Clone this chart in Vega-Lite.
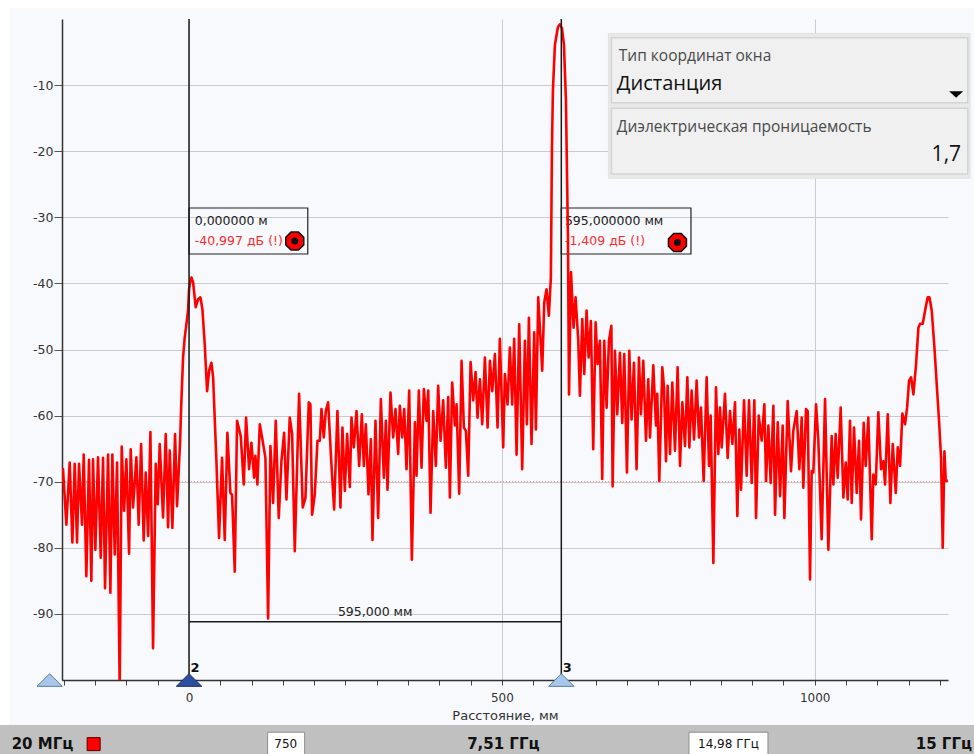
{
  "$schema": "https://vega.github.io/schema/vega-lite/v6.json",
  "width": 886,
  "height": 661,
  "autosize": {"type": "none"},
  "padding": {"left": 62, "top": 19, "right": 26, "bottom": 74},
  "background": "#f8f9fc",
  "config": {"view": {"stroke": null}, "font": "DejaVu Sans"},
  "datasets": {
    "trace": [
      {"d":-203,"db":-70.0},{"d":-201.4,"db":-68.1},{"d":-196.0,"db":-76.5},{"d":-190.7,"db":-67.1},{"d":-186.4,"db":-79.2},{"d":-182.7,"db":-67.3},{"d":-179.0,"db":-79.2},{"d":-175.8,"db":-67.3},{"d":-171.0,"db":-76.5},{"d":-168.3,"db":-65.9},{"d":-164.1,"db":-84.3},{"d":-159.8,"db":-66.7},{"d":-156.1,"db":-85.0},{"d":-153.4,"db":-66.6},{"d":-149.7,"db":-80.3},{"d":-145.4,"db":-66.3},{"d":-141.1,"db":-81.5},{"d":-137.4,"db":-66.4},{"d":-134.2,"db":-86.1},{"d":-129.4,"db":-65.9},{"d":-125.7,"db":-86.8},{"d":-122.5,"db":-65.9},{"d":-118.7,"db":-81.0},{"d":-115.0,"db":-67.1},{"d":-110.8,"db":-101},{"d":-107.6,"db":-64.7},{"d":-103.8,"db":-74.4},{"d":-100.1,"db":-66.6},{"d":-95.8,"db":-80.9},{"d":-93.2,"db":-65.1},{"d":-89.4,"db":-73.9},{"d":-84.1,"db":-66.3},{"d":-80.4,"db":-76.5},{"d":-76.6,"db":-64.3},{"d":-72.4,"db":-78.9},{"d":-69.2,"db":-68.6},{"d":-65.4,"db":-78.2},{"d":-61.7,"db":-62.5},{"d":-57.5,"db":-95.2},{"d":-53.2,"db":-67.3},{"d":-50.0,"db":-73.4},{"d":-46.8,"db":-64.3},{"d":-41.5,"db":-75.4},{"d":-37.2,"db":-62.8},{"d":-33.5,"db":-76.9},{"d":-30.8,"db":-65.3},{"d":-26.6,"db":-77.0},{"d":-22.3,"db":-62.8},{"d":-19.1,"db":-73.7},{"d":-16.3,"db":-68.0},{"d":-14.3,"db":-64.0},{"d":-12.2,"db":-57.8},{"d":-9.5,"db":-51.2},{"d":-6.9,"db":-48.2},{"d":-4.2,"db":-46.2},{"d":-1.5,"db":-44.1},{"d":0,"db":-41.0},{"d":1.2,"db":-40.1},{"d":3.8,"db":-39.1},{"d":6.5,"db":-39.8},{"d":10.7,"db":-43.6},{"d":14.5,"db":-42.4},{"d":18.2,"db":-42.1},{"d":21.4,"db":-43.9},{"d":25.1,"db":-49.2},{"d":28.9,"db":-56.3},{"d":32.1,"db":-53.2},{"d":35.8,"db":-52.0},{"d":38.5,"db":-54.2},{"d":43.8,"db":-66.9},{"d":48.0,"db":-78.5},{"d":52.8,"db":-66.4},{"d":57.1,"db":-78.8},{"d":61.3,"db":-62.6},{"d":66.1,"db":-71.7},{"d":68.8,"db":-72.0},{"d":73.1,"db":-83.6},{"d":76.8,"db":-60.8},{"d":82.7,"db":-63.1},{"d":87.5,"db":-70.4},{"d":91.2,"db":-60.3},{"d":96.0,"db":-68.1},{"d":99.7,"db":-64.1},{"d":104.0,"db":-69.4},{"d":106.1,"db":-66.1},{"d":109.3,"db":-70.4},{"d":113.1,"db":-61.3},{"d":116.8,"db":-63.3},{"d":122.1,"db":-66.4},{"d":126.4,"db":-90.7},{"d":130.1,"db":-64.6},{"d":134.4,"db":-73.2},{"d":138.6,"db":-60.8},{"d":143.4,"db":-75.5},{"d":147.7,"db":-66.9},{"d":152.0,"db":-62.6},{"d":155.7,"db":-72.7},{"d":161.0,"db":-60.3},{"d":164.8,"db":-62.8},{"d":169.0,"db":-80.5},{"d":175.9,"db":-56.7},{"d":181.8,"db":-73.9},{"d":186.1,"db":-72.4},{"d":191.4,"db":-58.0},{"d":194.0,"db":-58.3},{"d":196.7,"db":-75.0},{"d":201.0,"db":-71.9},{"d":205.3,"db":-63.8},{"d":209.0,"db":-63.8},{"d":211.7,"db":-59.0},{"d":215.4,"db":-63.3},{"d":218.6,"db":-59.3},{"d":222.3,"db":-58.0},{"d":227.6,"db":-67.4},{"d":231.9,"db":-74.2},{"d":237.2,"db":-59.3},{"d":242.0,"db":-73.9},{"d":245.2,"db":-61.8},{"d":249.0,"db":-71.4},{"d":252.7,"db":-62.8},{"d":257.0,"db":-70.8},{"d":259.7,"db":-60.3},{"d":263.4,"db":-64.8},{"d":267.7,"db":-59.3},{"d":271.9,"db":-67.6},{"d":276.2,"db":-59.8},{"d":279.4,"db":-67.6},{"d":282.6,"db":-61.3},{"d":286.8,"db":-71.9},{"d":290.6,"db":-63.6},{"d":293.2,"db":-78.8},{"d":298.0,"db":-60.8},{"d":302.3,"db":-75.5},{"d":306.6,"db":-57.5},{"d":311.4,"db":-69.4},{"d":314.6,"db":-60.8},{"d":317.2,"db":-71.2},{"d":322.0,"db":-56.5},{"d":326.3,"db":-63.3},{"d":330.0,"db":-59.0},{"d":334.3,"db":-65.8},{"d":336.9,"db":-58.5},{"d":340.7,"db":-63.3},{"d":343.9,"db":-59.0},{"d":347.6,"db":-68.1},{"d":351.9,"db":-56.2},{"d":356.1,"db":-81.8},{"d":361.0,"db":-61.0},{"d":363.6,"db":-69.1},{"d":367.3,"db":-56.2},{"d":371.6,"db":-67.9},{"d":375.3,"db":-56.0},{"d":379.6,"db":-60.8},{"d":382.3,"db":-56.2},{"d":386.0,"db":-74.7},{"d":390.3,"db":-59.3},{"d":394.5,"db":-67.6},{"d":398.2,"db":-55.5},{"d":402.0,"db":-63.8},{"d":406.2,"db":-57.7},{"d":410.5,"db":-67.9},{"d":414.2,"db":-57.2},{"d":416.9,"db":-72.4},{"d":420.6,"db":-55.0},{"d":424.9,"db":-61.5},{"d":427.6,"db":-58.3},{"d":431.8,"db":-71.8},{"d":435.6,"db":-51.7},{"d":439.3,"db":-61.8},{"d":442.5,"db":-62.3},{"d":446.2,"db":-69.1},{"d":450.0,"db":-51.9},{"d":454.2,"db":-57.7},{"d":458.0,"db":-53.4},{"d":461.1,"db":-60.3},{"d":464.9,"db":-54.5},{"d":468.6,"db":-61.3},{"d":472.9,"db":-51.2},{"d":477.2,"db":-61.8},{"d":480.9,"db":-51.7},{"d":484.6,"db":-56.3},{"d":488.9,"db":-50.7},{"d":493.1,"db":-61.8},{"d":496.8,"db":-48.4},{"d":502.1,"db":-64.8},{"d":504.8,"db":-53.7},{"d":509.1,"db":-58.3},{"d":512.8,"db":-49.7},{"d":516.5,"db":-58.3},{"d":519.7,"db":-48.4},{"d":523.5,"db":-65.9},{"d":527.7,"db":-46.2},{"d":532.5,"db":-68.1},{"d":536.8,"db":-48.7},{"d":540.0,"db":-61.3},{"d":543.2,"db":-45.2},{"d":547.4,"db":-64.3},{"d":551.7,"db":-47.4},{"d":554.4,"db":-62.1},{"d":558.1,"db":-42.1},{"d":564.5,"db":-53.2},{"d":567.7,"db":-42.9},{"d":571.4,"db":-40.9},{"d":575.1,"db":-44.9},{"d":578.3,"db":-39.1},{"d":580.0,"db":-19.8},{"d":581.6,"db":-10.7},{"d":584.8,"db":-3.9},{"d":589.6,"db":-1.2},{"d":592.8,"db":-0.8},{"d":596.0,"db":-1.4},{"d":599.2,"db":-3.9},{"d":602.4,"db":-12.3},{"d":604.0,"db":-22.8},{"d":605.6,"db":-33.0},{"d":607.3,"db":-56.8},{"d":610.5,"db":-38.3},{"d":614.6,"db":-46.7},{"d":617.8,"db":-42.1},{"d":622.1,"db":-48.7},{"d":624.7,"db":-57.0},{"d":628.5,"db":-45.4},{"d":631.7,"db":-53.7},{"d":635.4,"db":-44.1},{"d":638.6,"db":-51.2},{"d":642.3,"db":-45.7},{"d":646.0,"db":-65.1},{"d":649.8,"db":-45.9},{"d":653.0,"db":-52.2},{"d":656.7,"db":-48.7},{"d":660.4,"db":-69.6},{"d":663.6,"db":-48.7},{"d":667.4,"db":-58.8},{"d":671.1,"db":-48.7},{"d":675.0,"db":-46.4},{"d":677.0,"db":-70.7},{"d":680.7,"db":-50.2},{"d":684.4,"db":-59.8},{"d":688.7,"db":-50.5},{"d":692.4,"db":-61.1},{"d":695.6,"db":-50.7},{"d":699.9,"db":-68.6},{"d":703.6,"db":-50.2},{"d":707.3,"db":-60.6},{"d":711.1,"db":-52.0},{"d":715.3,"db":-68.1},{"d":719.1,"db":-51.2},{"d":722.3,"db":-59.8},{"d":726.0,"db":-51.7},{"d":730.3,"db":-63.8},{"d":734.0,"db":-54.5},{"d":736.7,"db":-63.3},{"d":742.0,"db":-52.4},{"d":746.3,"db":-61.5},{"d":748.4,"db":-56.7},{"d":751.6,"db":-69.9},{"d":756.4,"db":-52.7},{"d":759.1,"db":-55.7},{"d":762.3,"db":-66.9},{"d":764.9,"db":-55.5},{"d":768.7,"db":-65.8},{"d":772.4,"db":-55.0},{"d":776.7,"db":-65.3},{"d":780.9,"db":-52.7},{"d":784.7,"db":-67.6},{"d":788.4,"db":-58.0},{"d":792.7,"db":-64.6},{"d":796.4,"db":-54.2},{"d":799.6,"db":-64.8},{"d":803.3,"db":-56.2},{"d":807.1,"db":-63.6},{"d":811.3,"db":-54.7},{"d":815.0,"db":-63.3},{"d":818.2,"db":-58.8},{"d":822.5,"db":-69.9},{"d":827.3,"db":-54.2},{"d":831.0,"db":-67.6},{"d":833.7,"db":-60.0},{"d":838.0,"db":-82.3},{"d":842.2,"db":-55.7},{"d":845.9,"db":-65.8},{"d":848.6,"db":-58.8},{"d":851.3,"db":-64.8},{"d":856.6,"db":-56.7},{"d":860.9,"db":-66.4},{"d":864.6,"db":-59.3},{"d":868.4,"db":-64.3},{"d":872.6,"db":-58.0},{"d":876.3,"db":-75.2},{"d":879.5,"db":-62.1},{"d":882.2,"db":-71.2},{"d":887.0,"db":-57.7},{"d":891.3,"db":-69.1},{"d":895.0,"db":-57.7},{"d":899.3,"db":-70.2},{"d":903.5,"db":-57.7},{"d":906.2,"db":-75.5},{"d":910.5,"db":-60.0},{"d":915.2,"db":-63.8},{"d":919.5,"db":-58.3},{"d":922.2,"db":-69.9},{"d":925.9,"db":-61.5},{"d":929.6,"db":-70.2},{"d":933.9,"db":-58.5},{"d":936.6,"db":-75.0},{"d":940.9,"db":-61.0},{"d":944.6,"db":-72.2},{"d":948.8,"db":-61.5},{"d":951.5,"db":-75.5},{"d":956.8,"db":-57.8},{"d":962.1,"db":-68.4},{"d":965.8,"db":-62.3},{"d":971.2,"db":-59.3},{"d":975.4,"db":-68.1},{"d":979.2,"db":-60.3},{"d":981.8,"db":-70.9},{"d":986.1,"db":-59.0},{"d":988.8,"db":-59.3},{"d":992.5,"db":-84.8},{"d":995.1,"db":-68.4},{"d":997.8,"db":-68.6},{"d":1002.1,"db":-58.3},{"d":1005.8,"db":-63.8},{"d":1011.1,"db":-78.7},{"d":1016.5,"db":-57.5},{"d":1021.8,"db":-80.3},{"d":1027.1,"db":-63.1},{"d":1029.8,"db":-70.4},{"d":1033.5,"db":-62.8},{"d":1036.7,"db":-69.4},{"d":1041.5,"db":-58.8},{"d":1045.8,"db":-72.4},{"d":1049.5,"db":-67.1},{"d":1052.7,"db":-72.7},{"d":1056.4,"db":-60.8},{"d":1059.1,"db":-73.2},{"d":1062.8,"db":-61.8},{"d":1067.1,"db":-71.7},{"d":1070.8,"db":-63.8},{"d":1074.0,"db":-75.7},{"d":1078.3,"db":-61.1},{"d":1081.5,"db":-67.6},{"d":1085.7,"db":-60.3},{"d":1091.1,"db":-78.7},{"d":1093.7,"db":-68.9},{"d":1097.5,"db":-70.4},{"d":1101.7,"db":-59.5},{"d":1106.0,"db":-68.1},{"d":1109.7,"db":-66.9},{"d":1112.4,"db":-70.4},{"d":1116.7,"db":-59.8},{"d":1120.9,"db":-73.2},{"d":1124.7,"db":-64.3},{"d":1129.5,"db":-71.7},{"d":1132.7,"db":-64.8},{"d":1136.4,"db":-67.6},{"d":1140.1,"db":-59.7},{"d":1144.4,"db":-61.3},{"d":1147.6,"db":-58.8},{"d":1150.8,"db":-54.7},{"d":1154.0,"db":-54.2},{"d":1157.7,"db":-56.8},{"d":1162.0,"db":-52.2},{"d":1165.7,"db":-46.7},{"d":1168.4,"db":-46.1},{"d":1172.6,"db":-46.1},{"d":1176.4,"db":-44.1},{"d":1180.6,"db":-42.1},{"d":1183.3,"db":-42.1},{"d":1187.0,"db":-44.1},{"d":1191.3,"db":-49.7},{"d":1195.0,"db":-55.3},{"d":1198.7,"db":-60.8},{"d":1201.9,"db":-66.4},{"d":1204.6,"db":-80.0},{"d":1207.3,"db":-65.4},{"d":1209.4,"db":-69.9},{"d":1213,"db":-69.8}
    ],
    "whiteStrips": [{"d":-330,"d2":1270,"db":1.66,"db2":4},{"d":-330,"d2":-286.7,"db":4,"db2":-106.8}],
    "bottomBar": [{"d":-330,"d2":1270,"db":-106.8,"db2":-112}],
    "barBoxes": [{"d":125.6,"d2":184.8,"db":-107.9,"db2":-112},{"d":799,"d2":925.3,"db":-107.9,"db2":-112}],
    "panelOuter": [{"d":670.3,"d2":1248.3,"db":-2.19,"db2":-24.1}],
    "panelInner": [{"d":675.1,"d2":1244.6,"db":-2.83,"db2":-12.66},{"d":675.1,"d2":1244.6,"db":-13.51,"db2":-23.45}],
    "refLine": [{"d":-203,"d2":1213,"db":-70}],
    "markerLines": [{"d":0,"db":0,"db2":-100},{"d":595,"db":0,"db2":-100}],
    "deltaLine": [{"d":0,"d2":595,"db":-91.2}],
    "markerBoxes": [{"d":0,"d2":189.8,"db":-28.59,"db2":-35.55},{"d":595,"d2":802.2,"db":-28.59,"db2":-35.55}],
    "boxTextBlack": [{"d":9.1,"db":-30.56,"t":"0,000000 м"},{"d":600.7,"db":-30.56,"t":"595,000000 мм"}],
    "boxTextRed": [{"d":9.1,"db":-33.59,"t":"-40,997 дБ (!)"},{"d":600.7,"db":-33.59,"t":"-1,409 дБ (!)"}],
    "icons": [{"d":169.0,"db":-33.6},{"d":780.6,"db":-33.8}],
    "deltaText": [{"d":297.5,"db":-89.7,"t":"595,000 мм"}],
    "triLight": [{"d":-222.7,"db":-100},{"d":595,"db":-100}],
    "triDark": [{"d":0,"db":-100}],
    "markerNums": [{"d":0,"db":-98.75,"t":"2"},{"d":595,"db":-98.75,"t":"3"}],
    "panelSmall": [{"d":686.9,"db":-5.6,"t":"Тип координат окна"},{"d":683.7,"db":-16.34,"t":"Диэлектрическая проницаемость"}],
    "panelBig": [{"d":683.7,"db":-9.83,"t":"Дистанция"}],
    "panelValue": [{"d":1233.9,"db":-20.57,"t":"1,7"}],
    "dropArrow": [{"d":1226.0,"db":-11.42}],
    "barBoldLeft": [{"d":-283.5,"db":-109.7,"t":"20 МГц"}],
    "barBoldCenter": [{"d":502.4,"db":-109.7,"t":"7,51 ГГц"}],
    "barBoldRight": [{"d":1251.5,"db":-109.7,"t":"15 ГГц"}],
    "barNormal": [{"d":154.6,"db":-109.7,"t":"750"},{"d":862.2,"db":-109.7,"t":"14,98 ГГц"}],
    "barSquare": [{"d":-152.4,"db":-109.7}]
  },
  "encoding": {
    "x": {
      "field": "d", "type": "quantitative",
      "scale": {"domain": [-203, 1213], "nice": false, "zero": false},
      "axis": {
        "values": [-200,-150,-100,-50,0,50,100,150,200,250,300,350,400,450,500,550,600,650,700,750,800,850,900,950,1000,1050,1100,1150,1200],
        "labelExpr": "datum.value % 500 === 0 ? '' + datum.value : ''",
        "labelOverlap": false, "labelFlush": false, "labelBound": false,
        "title": "Расстояние, мм",
        "grid": true,
        "gridOpacity": {"condition": {"test": "datum.value % 500 === 0", "value": 1}, "value": 0},
        "gridColor": "#cacaca", "gridWidth": 1,
        "tickSize": 5, "tickColor": "#444", "tickWidth": 1,
        "domainColor": "#333", "domainWidth": 1.5,
        "labelPadding": 7, "labelFontSize": 12, "labelColor": "#333", "labelFont": "DejaVu Sans",
        "titleFontSize": 13, "titleFontWeight": "normal", "titleColor": "#333", "titleFont": "DejaVu Sans", "titlePadding": 6
      }
    },
    "y": {
      "field": "db", "type": "quantitative",
      "scale": {"domain": [-100, 0], "nice": false, "zero": false},
      "axis": {
        "values": [-90,-80,-70,-60,-50,-40,-30,-20,-10],
        "labelExpr": "'' + datum.value",
        "title": null,
        "grid": true, "gridColor": "#cacaca", "gridWidth": 1,
        "tickSize": 8, "tickColor": "#555", "tickWidth": 1,
        "domainColor": "#333", "domainWidth": 1.5,
        "labelPadding": 1, "labelFontSize": 12.5, "labelColor": "#333", "labelFont": "DejaVu Sans"
      }
    }
  },
  "layer": [
    {"data": {"name": "whiteStrips"}, "mark": {"type": "rect", "fill": "#ffffff"}, "encoding": {"x2": {"field": "d2"}, "y2": {"field": "db2"}}},
    {"data": {"name": "bottomBar"}, "mark": {"type": "rect", "fill": "#c0c0c0"}, "encoding": {"x2": {"field": "d2"}, "y2": {"field": "db2"}}},
    {"data": {"name": "barBoxes"}, "mark": {"type": "rect", "fill": "#ffffff", "stroke": "#8e8e8e", "strokeWidth": 1}, "encoding": {"x2": {"field": "d2"}, "y2": {"field": "db2"}}},
    {"data": {"name": "panelOuter"}, "mark": {"type": "rect", "fill": "#e9e9e9", "stroke": "#e3e3e3", "strokeWidth": 1}, "encoding": {"x2": {"field": "d2"}, "y2": {"field": "db2"}}},
    {"data": {"name": "panelInner"}, "mark": {"type": "rect", "fill": "#f0f0f0", "stroke": "#d4d4d4", "strokeWidth": 1.5}, "encoding": {"x2": {"field": "d2"}, "y2": {"field": "db2"}}},
    {"data": {"name": "refLine"}, "mark": {"type": "rule", "stroke": "#e86a6a", "strokeWidth": 1, "strokeDash": [1, 2], "opacity": 0.8}, "encoding": {"x2": {"field": "d2"}}},
    {"data": {"name": "markerBoxes"}, "mark": {"type": "rect", "fillOpacity": 0, "stroke": "#222222", "strokeWidth": 1.2}, "encoding": {"x2": {"field": "d2"}, "y2": {"field": "db2"}}},
    {"data": {"name": "boxTextBlack"}, "mark": {"type": "text", "align": "left", "baseline": "middle", "font": "DejaVu Sans", "fontSize": 12.5, "fill": "#222222"}, "encoding": {"text": {"field": "t"}}},
    {"data": {"name": "boxTextRed"}, "mark": {"type": "text", "align": "left", "baseline": "middle", "font": "DejaVu Sans", "fontSize": 12.5, "fill": "#ff2a2a"}, "encoding": {"text": {"field": "t"}}},
    {"data": {"name": "trace"}, "mark": {"type": "line", "stroke": "#ff0000", "strokeWidth": 2.6, "clip": true, "strokeJoin": "round"}},
    {"data": {"name": "markerLines"}, "mark": {"type": "rule", "stroke": "#1a1a1a", "strokeWidth": 1.5}, "encoding": {"y2": {"field": "db2"}}},
    {"data": {"name": "deltaLine"}, "mark": {"type": "rule", "stroke": "#1a1a1a", "strokeWidth": 1.5}, "encoding": {"x2": {"field": "d2"}}},
    {"data": {"name": "deltaText"}, "mark": {"type": "text", "align": "center", "baseline": "middle", "font": "DejaVu Sans", "fontSize": 12.5, "fill": "#222222"}, "encoding": {"text": {"field": "t"}}},
    {"data": {"name": "icons"}, "mark": {"type": "point", "shape": "M-0.414,-1L0.414,-1L1,-0.414L1,0.414L0.414,1L-0.414,1L-1,0.414L-1,-0.414Z", "size": 324, "filled": true, "fill": "#ff0000", "stroke": "#111111", "strokeWidth": 1.5, "opacity": 1}},
    {"data": {"name": "icons"}, "mark": {"type": "point", "shape": "circle", "size": 49, "filled": true, "fill": "#111111", "opacity": 1}},
    {"data": {"name": "triLight"}, "mark": {"type": "point", "shape": "M-1,0.5L0,-0.5L1,0.5Z", "size": 650, "filled": true, "fill": "#a7c6ea", "stroke": "#5a7da5", "strokeWidth": 1, "opacity": 1}},
    {"data": {"name": "triDark"}, "mark": {"type": "point", "shape": "M-1,0.5L0,-0.5L1,0.5Z", "size": 650, "filled": true, "fill": "#2d4f9f", "stroke": "#1b2f6a", "strokeWidth": 1, "opacity": 1}},
    {"data": {"name": "markerNums"}, "mark": {"type": "text", "align": "left", "baseline": "alphabetic", "dx": 1.5, "font": "DejaVu Sans", "fontSize": 13, "fontWeight": "bold", "fill": "#111111"}, "encoding": {"text": {"field": "t"}}},
    {"data": {"name": "panelSmall"}, "mark": {"type": "text", "align": "left", "baseline": "middle", "font": "Open Sans", "fontSize": 15.5, "fill": "#4a4a4a"}, "encoding": {"text": {"field": "t"}}},
    {"data": {"name": "panelBig"}, "mark": {"type": "text", "align": "left", "baseline": "middle", "font": "Open Sans", "fontSize": 20, "fill": "#111111"}, "encoding": {"text": {"field": "t"}}},
    {"data": {"name": "panelValue"}, "mark": {"type": "text", "align": "right", "baseline": "middle", "font": "Open Sans", "fontSize": 21, "fill": "#111111"}, "encoding": {"text": {"field": "t"}}},
    {"data": {"name": "dropArrow"}, "mark": {"type": "point", "shape": "M-1,-0.45L1,-0.45L0,0.45Z", "size": 196, "filled": true, "fill": "#000000", "opacity": 1}},
    {"data": {"name": "barBoldLeft"}, "mark": {"type": "text", "align": "left", "baseline": "middle", "font": "DejaVu Sans", "fontSize": 15, "fontWeight": "bold", "fill": "#111111"}, "encoding": {"text": {"field": "t"}}},
    {"data": {"name": "barBoldCenter"}, "mark": {"type": "text", "align": "center", "baseline": "middle", "font": "DejaVu Sans", "fontSize": 15, "fontWeight": "bold", "fill": "#111111"}, "encoding": {"text": {"field": "t"}}},
    {"data": {"name": "barBoldRight"}, "mark": {"type": "text", "align": "right", "baseline": "middle", "font": "DejaVu Sans", "fontSize": 15, "fontWeight": "bold", "fill": "#111111"}, "encoding": {"text": {"field": "t"}}},
    {"data": {"name": "barNormal"}, "mark": {"type": "text", "align": "center", "baseline": "middle", "font": "DejaVu Sans", "fontSize": 12, "fill": "#111111"}, "encoding": {"text": {"field": "t"}}},
    {"data": {"name": "barSquare"}, "mark": {"type": "point", "shape": "square", "size": 169, "filled": true, "fill": "#ff0000", "stroke": "#5a0000", "strokeWidth": 1, "opacity": 1}}
  ]
}
